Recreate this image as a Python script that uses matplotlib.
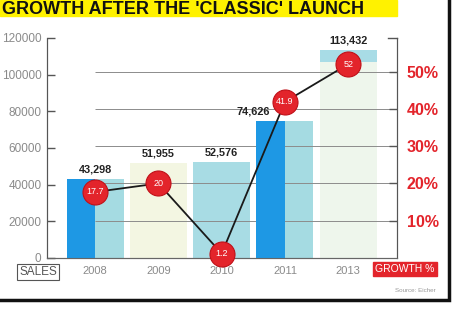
"""Sales bars with growth-rate line, magazine style."""

import matplotlib
matplotlib.use("Agg")
import matplotlib.pyplot as plt
import matplotlib.transforms as mtransforms
from matplotlib.patches import Rectangle

plt.rcParams["font.family"] = ["Liberation Sans", "DejaVu Sans"]

# data
years = ["2008", "2009", "2010", "2011", "2013"]
sales = [43298, 51955, 52576, 74626, 113432]
growth = [17.7, 20, 1.2, 41.9, 52]
growth_ticks = [10, 20, 30, 40, 50]
sales_ticks = [0, 20000, 40000, 60000, 80000, 100000, 120000]

# styling
bar_colors = ["#a5dbe2", "#f3f6e2", "#a8dce4", "#a5dbe2", "#eef6ec"]
blue_half = [True, False, False, True, False]
cap_top = [False, False, False, False, True]
label_shift = [0, 0, 0, -0.24, 0]
BLUE = "#1e98e4"
TEAL = "#a8dce6"
RED = "#e3242b"
GRAY = "#8a8a8a"
NARROW = ["Liberation Sans Narrow", "Liberation Sans", "DejaVu Sans"]

W, H = 454, 318
fig = plt.figure(figsize=(W / 100, H / 100), dpi=100)
fig.patch.set_facecolor("white")

ax = fig.add_axes([47 / W, 1 - 258 / H, 350 / W, 220 / H])
ax2 = ax.twinx()

x = list(range(len(years)))
width = 0.9
ax.set_xlim(-0.76, 4.77)
ax.set_ylim(0, 120000)
ax2.set_ylim(0, 59)

# main bars
ax.bar(x, sales, width=width, color=bar_colors, zorder=1)

# growth gridlines from the first year to the right spine
grid_tr = mtransforms.blended_transform_factory(ax.transData, ax2.transData)
ax.hlines(growth_ticks, x[0], ax.get_xlim()[1], transform=grid_tr,
          color="#8c8c8c", lw=0.7, zorder=2)

# blue left halves and the teal cap on the last bar
for xi, s, half, cap in zip(x, sales, blue_half, cap_top):
    if half:
        ax.bar(xi - width / 4, s, width=width / 2, color=BLUE, zorder=3)
    if cap:
        ax.bar(xi, 6500, bottom=s - 6500, width=width, color=TEAL, zorder=3)

# value labels above bars
for xi, s, dx in zip(x, sales, label_shift):
    ax.text(xi + dx, s + 2500, f"{s:,}", ha="right" if dx else "center",
            va="bottom", fontsize=7.8, fontweight="bold", color="#222222",
            family=NARROW, zorder=5)

# growth line with red circles
ax2.plot(x, growth, color="#1a1a1a", lw=1.3, zorder=4, clip_on=False)
ax2.plot(x, growth, "o", ms=18, mfc=RED, mec="#c01018", mew=0.8,
         zorder=5, clip_on=False)
for xi, g in zip(x, growth):
    ax2.text(xi, g, f"{g:g}", ha="center", va="center", fontsize=6.5,
             color="white", family=NARROW, zorder=6)

# axes styling
for a in (ax, ax2):
    a.spines["top"].set_visible(False)
    a.spines["left"].set_color("#555555")
    a.spines["right"].set_color("#555555")
    a.spines["bottom"].set_color("#666666")

ax.set_yticks(sales_ticks)
ax.set_yticklabels([str(v) for v in sales_ticks])
ax.tick_params(axis="y", direction="in", length=6, width=1, pad=4,
               colors="#555555", labelcolor=GRAY, labelsize=8.5)
ax.set_xticks(x)
ax.set_xticklabels(years, family=NARROW)
ax.tick_params(axis="x", length=0, pad=6, labelcolor=GRAY, labelsize=8)

ax2.set_yticks(growth_ticks)
ax2.set_yticklabels([f"{g}%" for g in growth_ticks], fontweight="bold")
ax2.tick_params(axis="y", direction="in", length=6, width=1, pad=7,
                colors="#555555", labelcolor=RED, labelsize=11.5)

# little bracket at the top of the right spine
ax2.plot([1, 0.975], [1, 1], transform=ax2.transAxes, color="#555555",
         lw=1, clip_on=False)

# title strip
fig.add_artist(Rectangle((0, 1 - 16 / H), 397 / W, 16 / H,
                         transform=fig.transFigure, color="#fff200", zorder=0))
fig.text(2 / W, 1 - 13.5 / H, "GROWTH AFTER THE 'CLASSIC' LAUNCH", ha="left",
         va="baseline", fontsize=13, fontweight="heavy", color="#111111")

# axis captions
fig.text(38 / W, 1 - 272 / H, "SALES", ha="center", va="center", fontsize=8.5,
         color="#555555", family=NARROW,
         bbox=dict(boxstyle="square,pad=0.15", fc="white", ec="#555555", lw=0.8))
fig.text(405 / W, 1 - 269 / H, "GROWTH %", ha="center", va="center",
         fontsize=7.5, color="white", family=NARROW,
         bbox=dict(boxstyle="square,pad=0.2", fc=RED, ec=RED))
fig.text(436 / W, 1 - 291 / H, "Source: Eicher", ha="right", va="center",
         fontsize=4.5, color="#999999")

# page frame
fig.add_artist(Rectangle((-0.05, 1 - 300 / H), (449 / W) + 0.05, 300 / H + 0.05,
                         transform=fig.transFigure, fill=False, ec="#111111",
                         lw=2.5, zorder=10))

fig.savefig("out.png", dpi=100)
